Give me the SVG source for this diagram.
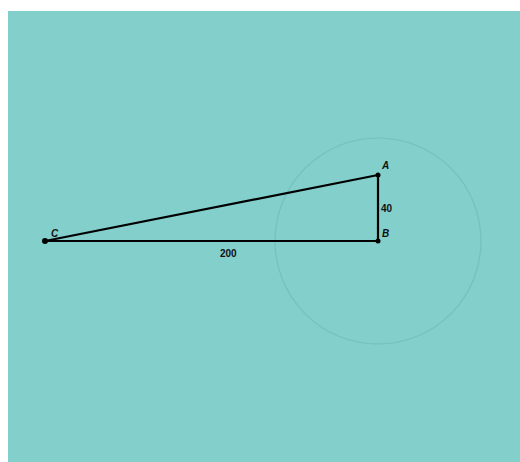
<svg xmlns="http://www.w3.org/2000/svg" width="520" height="462" viewBox="0 0 520 462">
<style>
.lbl{font-family:"Liberation Sans",Arial,sans-serif;font-size:10px;font-weight:bold;fill:#111}
.it{font-style:italic}
.edge{stroke:#000;stroke-width:2.2;fill:none;stroke-linecap:round}
.pt{fill:#000}
</style>
<rect x="0" y="0" width="520" height="462" fill="#ffffff"/>
<rect x="8" y="11" width="512" height="451" fill="#82cfcc"/>
<circle cx="378" cy="241" r="103" fill="none" stroke="#73c1c0" stroke-width="1.2"/>
<g id="connectors">
<line class="edge" x1="45" y1="241" x2="378" y2="175"/>
<line class="edge" x1="45" y1="241" x2="378" y2="241"/>
<line class="edge" x1="378" y1="175" x2="378" y2="241"/>
</g>
<g id="A"><circle class="pt" cx="378" cy="175" r="2.5"/><text class="lbl it" x="382" y="169">A</text></g>
<g id="B"><circle class="pt" cx="378" cy="241" r="2.5"/><text class="lbl it" x="382" y="237">B</text></g>
<g id="C"><circle class="pt" cx="45" cy="241" r="3"/><text class="lbl it" x="51" y="237">C</text></g>
<text class="lbl" x="381" y="212">40</text>
<text class="lbl" x="220" y="257">200</text>
</svg>
